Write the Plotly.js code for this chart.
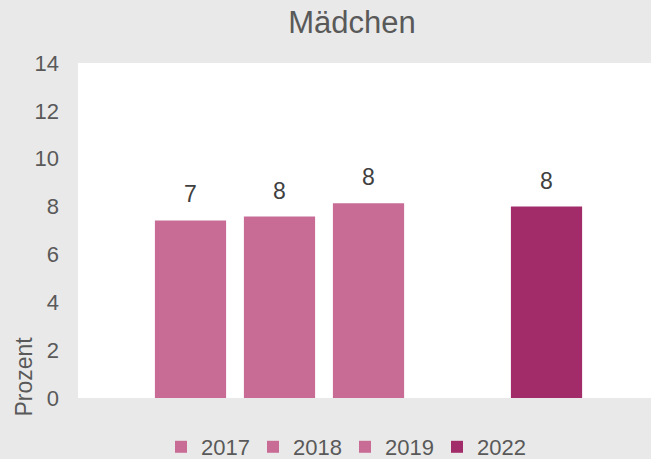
<!DOCTYPE html>
<html>
<head>
<meta charset="utf-8">
<script src="https://cdn.plot.ly/plotly-3.0.1.min.js"></script>
<style>html,body{margin:0;padding:0;background:#e9e9e9;}#chart{width:651px;height:459px;}</style>
</head>
<body>
<div id="chart"></div>
<script>
const years = ['2017', '2018', '2019', '2022'];
const values = [7.42, 7.58, 8.14, 8.0];
const colors = ['#c86c96', '#c86c96', '#c86c96', '#a12c69'];
const slotOrder = ['2017', '2018', '2019', ' ', '2022'];

const FONT = '"Liberation Sans", Arial, sans-serif';
const TXT = '#595959';

const traces = years.map((yr, i) => ({
  type: 'bar',
  x: [yr],
  y: [values[i]],
  name: yr,
  width: 0.8,
  marker: {color: colors[i]},
  hoverinfo: 'skip'
}));

const annotations = years.map((yr, i) => ({
  x: slotOrder.indexOf(yr), y: values[i], xref: 'x', yref: 'y',
  text: String(Math.round(values[i])),
  showarrow: false, yanchor: 'bottom', yshift: 11,
  font: {family: FONT, size: 23, color: '#404040'}
}));
annotations.push({
  text: 'Prozent', textangle: -90, showarrow: false,
  xref: 'paper', yref: 'paper', x: (24 - 78) / 573, y: (398.5 - 377) / 335.5,
  xanchor: 'center', yanchor: 'middle',
  font: {family: FONT, size: 23, color: TXT}
});

const layout = {
  width: 651, height: 459,
  paper_bgcolor: '#e9e9e9', plot_bgcolor: '#ffffff',
  margin: {l: 78, r: 0, t: 63, b: 60.5, pad: 0},
  title: {text: 'Mädchen', x: 352 / 651, xref: 'container', xanchor: 'center',
          y: 1 - 22 / 459, yref: 'container', yanchor: 'middle',
          font: {family: FONT, size: 31, color: TXT}},
  barmode: 'overlay',
  showlegend: true,
  legend: {orientation: 'h', xref: 'container', yref: 'container',
           x: 161 / 651, xanchor: 'left', y: (459 - 447) / 459, yanchor: 'middle',
           entrywidth: 47, entrywidthmode: 'pixels', traceorder: 'normal',
           bgcolor: 'rgba(0,0,0,0)', font: {family: FONT, size: 22, color: TXT}},
  xaxis: {type: 'category', categoryorder: 'array', categoryarray: slotOrder,
          range: [-1.264, 5.174], showticklabels: false, showgrid: false,
          zeroline: false, showline: false, ticks: '', fixedrange: true},
  yaxis: {range: [0, 14], dtick: 2, tick0: 0, showgrid: false, zeroline: false,
          showline: false, ticks: '', ticklabelstandoff: 18,
          tickfont: {family: FONT, size: 22, color: TXT}, fixedrange: true},
  annotations: annotations
};

Plotly.newPlot('chart', traces, layout, {displayModeBar: false, staticPlot: true});
</script>
</body>
</html>
